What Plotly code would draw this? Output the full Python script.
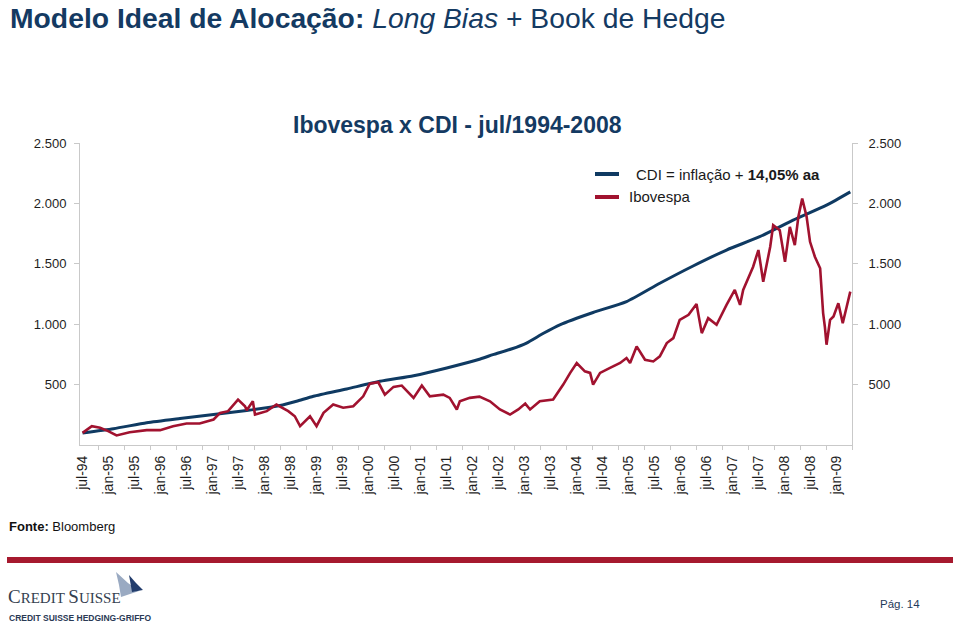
import plotly.graph_objects as go

# ---------------- data ----------------
cdi_dates = ["1994-07-01", "1995-02-04", "1995-09-25", "1996-05-16", "1997-01-07",
             "1997-08-28", "1998-04-19", "1998-08-13", "1998-12-10", "1999-08-01",
             "2000-03-22", "2000-11-13", "2001-07-04", "2002-02-25", "2002-05-25",
             "2002-10-01", "2003-01-16", "2003-05-15", "2003-09-07", "2004-04-28",
             "2004-12-19", "2005-08-10", "2006-04-01", "2006-11-22", "2007-07-13",
             "2008-03-04", "2008-10-25", "2009-04-10"]
cdi_values = [100, 135, 184, 219, 252, 285, 327, 362, 403, 464, 527, 574, 638, 712, 748,
              795, 844, 925, 995, 1097, 1187, 1339, 1482, 1614, 1724, 1861, 1985, 2095]

ibov_dates = ["1994-07-01", "1994-09-04", "1994-11-01", "1994-12-28", "1995-02-25",
              "1995-05-28", "1995-09-25", "1995-12-28", "1996-03-28", "1996-07-01",
              "1996-10-01", "1997-01-07", "1997-02-22", "1997-04-19", "1997-06-28",
              "1997-08-16", "1997-08-28", "1997-10-10", "1997-10-25", "1998-01-16",
              "1998-03-25", "1998-06-16", "1998-08-01", "1998-09-07", "1998-11-16",
              "1999-01-01", "1999-02-19", "1999-04-28", "1999-07-07", "1999-09-16",
              "1999-11-25", "2000-01-10", "2000-03-10", "2000-04-25", "2000-06-25",
              "2000-08-22", "2000-11-13", "2001-01-10", "2001-03-07", "2001-06-10",
              "2001-07-25", "2001-09-13", "2001-10-04", "2001-12-13", "2002-02-19",
              "2002-05-04", "2002-07-13", "2002-09-22", "2002-11-19", "2003-01-07",
              "2003-02-10", "2003-04-19", "2003-07-22", "2003-10-01", "2003-11-19",
              "2004-01-04", "2004-03-01", "2004-04-07", "2004-04-28", "2004-06-16",
              "2004-08-25", "2004-11-04", "2004-12-19", "2005-01-13", "2005-02-28",
              "2005-04-28", "2005-06-25", "2005-08-10", "2005-09-28", "2005-11-13",
              "2005-12-28", "2006-02-28", "2006-04-25", "2006-06-01", "2006-07-16",
              "2006-09-13", "2006-11-22", "2007-01-19", "2007-02-25", "2007-03-19",
              "2007-05-28", "2007-07-04", "2007-08-07", "2007-09-25", "2007-10-16",
              "2007-12-01", "2008-01-07", "2008-02-10", "2008-03-16", "2008-04-10",
              "2008-05-07", "2008-06-07", "2008-07-01", "2008-08-04", "2008-09-10",
              "2008-10-01", "2008-10-13", "2008-10-25", "2008-11-19", "2008-12-13",
              "2009-01-16", "2009-02-16", "2009-03-16", "2009-04-10"]
ibov_values = [100, 156, 143, 115, 79, 106, 123, 123, 156, 178,
               178, 211, 266, 280, 376, 321, 288, 362, 252, 280,
               335, 280, 238, 156, 238, 156, 266, 335, 308, 321,
               403, 508, 519, 417, 481, 492, 390, 492, 403, 417,
               390, 294, 362, 390, 400, 362, 294, 252, 294, 343,
               294, 362, 376, 500, 597, 679, 610, 597, 500, 597,
               638, 679, 720, 679, 816, 706, 692, 734, 844, 885,
               1036, 1078, 1168, 926, 1050, 995, 1160, 1284, 1160, 1284,
               1476, 1614, 1352, 1641, 1820, 1779, 1517, 1806, 1655, 1889,
               2040, 1889, 1682, 1559, 1463, 1092, 981, 830, 1036, 1064,
               1174, 1009, 1146, 1270]

tick_labels = ["jul-94", "jan-95", "jul-95", "jan-96", "jul-96", "jan-97", "jul-97",
               "jan-98", "jul-98", "jan-99", "jul-99", "jan-00", "jul-00", "jan-01",
               "jul-01", "jan-02", "jul-02", "jan-03", "jul-03", "jan-04", "jul-04",
               "jan-05", "jul-05", "jan-06", "jul-06", "jan-07", "jul-07", "jan-08",
               "jul-08", "jan-09"]
month_num = {"jan": "01", "jul": "07"}
tick_dates = [("19" if int(t[-2:]) > 50 else "20") + t[-2:] + "-" + month_num[t[:3]] + "-01"
              for t in tick_labels]

y_ticks = [500, 1000, 1500, 2000, 2500]
y_tick_text = ["500", "1.000", "1.500", "2.000", "2.500"]

# ---------------- styling ----------------
NAVY = "#0f3a62"
RED = "#a1122f"
GREY = "#c9c9c9"
FONT = "Liberation Sans, Arial, sans-serif"

W, H = 960, 626
L, R, T, B = 80, 108, 143, 181
PW, PH = W - L - R, H - T - B


def px(x):
    return (x - L) / PW


def py(y):
    return (H - B - y) / PH


fig = go.Figure()
fig.add_trace(go.Scatter(x=cdi_dates, y=cdi_values, mode="lines", yaxis="y",
                         line=dict(color=NAVY, width=3, shape="spline", smoothing=0.6),
                         name="CDI", showlegend=False, hoverinfo="skip"))
fig.add_trace(go.Scatter(x=ibov_dates, y=ibov_values, mode="lines", yaxis="y2",
                         line=dict(color=RED, width=2.6), name="Ibovespa",
                         showlegend=False, hoverinfo="skip"))

yax = dict(range=[0, 2500], tickvals=y_ticks, ticktext=y_tick_text,
           showline=True, linecolor=GREY, linewidth=1, ticks="outside",
           ticklen=5, tickcolor=GREY, showgrid=False, zeroline=False,
           tickfont=dict(family=FONT, size=13, color="#1e1e1e"), fixedrange=True)

fig.update_layout(
    width=W, height=H,
    margin=dict(l=L, r=R, t=T, b=B),
    paper_bgcolor="white", plot_bgcolor="white",
    xaxis=dict(type="date", range=["1994-06-13", "2009-04-22"],
               tickvals=tick_dates, ticktext=tick_labels, tickangle=-90,
               ticks="", showline=True, linecolor=GREY, linewidth=1,
               showgrid=False, zeroline=False, ticklabelstandoff=4,
               tickfont=dict(family=FONT, size=14, color="#1e1e1e"),
               minor=dict(ticks="outside", ticklen=4, tickcolor=GREY,
                          tick0="1994-04-22", dtick="M6", showgrid=False)),
    yaxis=dict(side="left", ticklabelstandoff=5, **yax),
    yaxis2=dict(side="right", overlaying="y", ticklabelstandoff=8, **yax),
)

# legend (drawn manually)
fig.add_shape(type="line", xref="paper", yref="paper", x0=px(595), x1=px(619),
              y0=py(174), y1=py(174), line=dict(color=NAVY, width=4))
fig.add_shape(type="line", xref="paper", yref="paper", x0=px(595), x1=px(619),
              y0=py(197), y1=py(197), line=dict(color=RED, width=4))

annotations = [
    dict(x=px(8), y=py(18), text="<b>Modelo Ideal de Alocação:</b> <i>Long Bias</i> + Book de Hedge",
         font=dict(family=FONT, size=28.3, color="#143a62"), xanchor="left", yanchor="middle"),
    dict(x=px(457.5), y=py(125), text="<b>Ibovespa x CDI - jul/1994-2008</b>",
         font=dict(family=FONT, size=23, color="#143a62"), xanchor="center", yanchor="middle"),
    dict(x=px(634), y=py(174), text="CDI = inflação + <b>14,05% aa</b>",
         font=dict(family=FONT, size=15, color="#1a1a1a"), xanchor="left", yanchor="middle"),
    dict(x=px(627), y=py(196), text="Ibovespa",
         font=dict(family=FONT, size=15, color="#1a1a1a"), xanchor="left", yanchor="middle"),
    dict(x=px(7), y=py(526), text="<b>Fonte:</b> Bloomberg",
         font=dict(family=FONT, size=13, color="#111111"), xanchor="left", yanchor="middle"),
    dict(x=px(6), y=py(596),
         text="<span style='font-size:19px'>C</span>REDIT <span style='font-size:19px'>S</span>UISSE",
         font=dict(family="Liberation Serif, serif", size=15, color="#34404f"),
         xanchor="left", yanchor="middle"),
    dict(x=px(7), y=py(618), text="<b>CREDIT SUISSE HEDGING-GRIFFO</b>",
         font=dict(family=FONT, size=8.5, color="#2a3a55"), xanchor="left", yanchor="middle"),
    dict(x=px(900), y=py(604), text="Pág. 14",
         font=dict(family=FONT, size=11.5, color="#1f3a5a"), xanchor="center", yanchor="middle"),
]
for a in annotations:
    a.update(xref="paper", yref="paper", showarrow=False)
    fig.add_annotation(**a)

# separator bar
fig.add_shape(type="line", xref="paper", yref="paper", x0=px(7), x1=px(953),
              y0=py(560), y1=py(560), line=dict(color="#a6192e", width=6))


# logo sails
def path(points):
    return "M " + " L ".join("%f,%f" % (px(a), py(b)) for a, b in points) + " Z"


fig.add_shape(type="path", xref="paper", yref="paper",
              path=path([(116, 572), (128, 583), (139, 591), (121, 597), (119, 585)]),
              fillcolor="#9aaac2", line=dict(width=0))
fig.add_shape(type="path", xref="paper", yref="paper",
              path=path([(129, 575), (136, 583), (143, 590), (132, 592)]),
              fillcolor="#223c6c", line=dict(width=0))

fig.write_html("out.html")
